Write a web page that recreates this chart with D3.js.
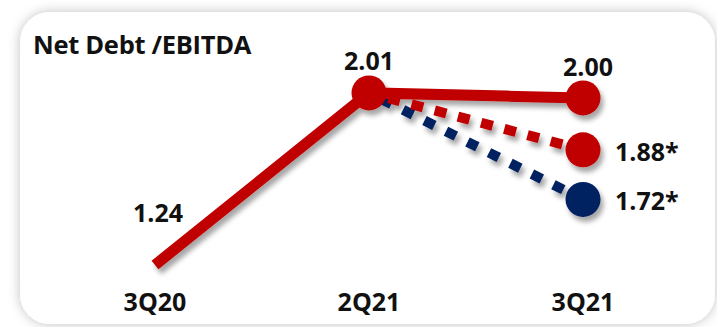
<!DOCTYPE html>
<html>
<head>
<meta charset="utf-8">
<script src="https://cdn.jsdelivr.net/npm/d3@7"></script>
<style>
  html, body { margin: 0; padding: 0; background: #ffffff; }
  svg { display: block; }
  text { font-family: "Open Sans", "DejaVu Sans", sans-serif; font-weight: 700; fill: #111; }
</style>
</head>
<body>
<svg id="chart" width="717" height="327"></svg>
<script>
// Quarters shown along the bottom
const quarters = ["3Q20", "2Q21", "3Q21"];
// Reported net debt / EBITDA
const reported = [1.24, 2.01, 2.00];
// Adjusted ratios for the latest quarter (starred), drawn from 2Q21
const adjustedRed = [2.01, 1.88];
const adjustedBlue = [2.01, 1.72];
const adjustedQuarters = ["2Q21", "3Q21"];
const valueLabels = ["1.24", "2.01", "2.00"];
const adjustedLabels = ["1.88*", "1.72*"];
const title = "Net Debt /EBITDA";

const RED = "#C00000";
const NAVY = "#002060";

const svg = d3.select("#chart");

const defs = svg.append("defs");
const shadow = defs.append("filter").attr("id", "drop")
  .attr("x", "-30%").attr("y", "-30%").attr("width", "160%").attr("height", "160%");
shadow.append("feDropShadow")
  .attr("dx", 3).attr("dy", 5).attr("stdDeviation", 2.5)
  .attr("flood-color", "#000").attr("flood-opacity", 0.35);

const glow = defs.append("filter").attr("id", "glow")
  .attr("x", "-10%").attr("y", "-10%").attr("width", "120%").attr("height", "120%");
glow.append("feDropShadow")
  .attr("dx", 0).attr("dy", 0).attr("stdDeviation", 6)
  .attr("flood-color", "#000").attr("flood-opacity", 0.25);

// Rounded panel
svg.append("rect")
  .attr("x", 20).attr("y", 12).attr("width", 695).attr("height", 312)
  .attr("rx", 30).attr("ry", 30)
  .attr("fill", "#fff")
  .attr("filter", "url(#glow)");

const x = d3.scalePoint().domain(quarters).range([155, 583]);
// Steep power scale so the top of the range spreads the close values apart
const y = d3.scalePow().exponent(5.5).domain([1, 2.1]).range([274, 42.5]);

svg.append("text")
  .attr("x", 33).attr("y", 54)
  .attr("font-size", 25.5)
  .attr("letter-spacing", -0.3)
  .text(title);

const plot = svg.append("g").attr("filter", "url(#drop)");

const line = d3.line().x(d => x(d.q)).y(d => y(d.v));

const blue = adjustedQuarters.map((q, i) => ({ q, v: adjustedBlue[i] }));
const red = adjustedQuarters.map((q, i) => ({ q, v: adjustedRed[i] }));
const main = quarters.map((q, i) => ({ q, v: reported[i] }));

plot.append("path").datum(blue).attr("d", line)
  .attr("fill", "none").attr("stroke", NAVY).attr("stroke-width", 10)
  .attr("stroke-dasharray", "11 13").attr("stroke-dashoffset", -14);

plot.append("path").datum(red).attr("d", line)
  .attr("fill", "none").attr("stroke", RED).attr("stroke-width", 10)
  .attr("stroke-dasharray", "12 12").attr("stroke-dashoffset", -20);

plot.append("path").datum(main).attr("d", line)
  .attr("fill", "none").attr("stroke", RED).attr("stroke-width", 11);

// Markers on every point except the first quarter
plot.selectAll("circle.main").data(main.slice(1)).join("circle")
  .attr("class", "main")
  .attr("cx", d => x(d.q)).attr("cy", d => y(d.v)).attr("r", 17.5)
  .attr("fill", RED);

plot.append("circle")
  .attr("cx", x(red[1].q)).attr("cy", y(red[1].v)).attr("r", 17.5).attr("fill", RED);
plot.append("circle")
  .attr("cx", x(blue[1].q)).attr("cy", y(blue[1].v)).attr("r", 17.5).attr("fill", NAVY);

// Value labels above the reported points
svg.selectAll("text.val").data(main).join("text")
  .attr("class", "val")
  .attr("font-size", 25)
  .attr("text-anchor", "middle")
  .attr("x", (d, i) => x(d.q) + [3, 0, 5][i])
  .attr("y", (d, i) => y(d.v) - [43, 23, 22][i])
  .text((d, i) => valueLabels[i]);

// Adjusted labels to the right of their markers
const adj = [red[1], blue[1]];
svg.selectAll("text.adj").data(adj).join("text")
  .attr("class", "adj")
  .attr("font-size", 25)
  .attr("x", d => x(d.q) + 32)
  .attr("y", d => y(d.v) + 11)
  .text((d, i) => adjustedLabels[i]);

// Quarter labels
svg.selectAll("text.q").data(quarters).join("text")
  .attr("class", "q")
  .attr("font-size", 25)
  .attr("text-anchor", "middle")
  .attr("x", d => x(d))
  .attr("y", 311)
  .text(d => d);
</script>
</body>
</html>
